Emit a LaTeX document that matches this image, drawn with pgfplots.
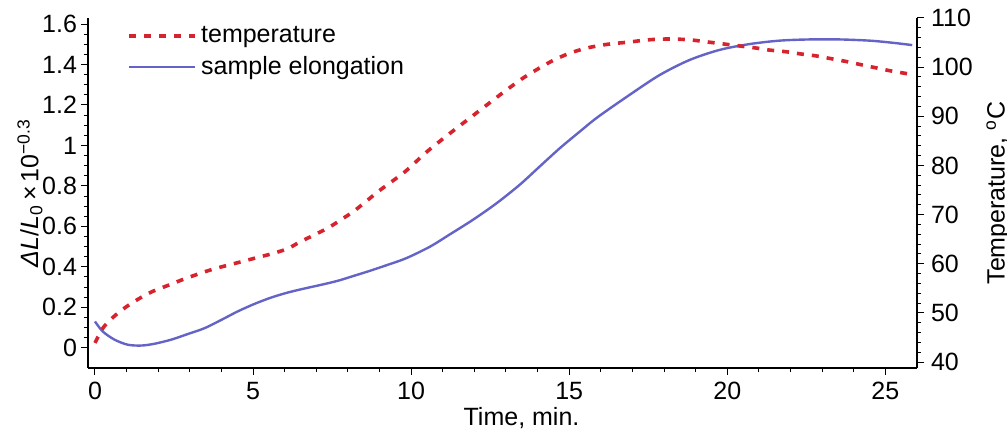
\documentclass[border=0pt]{standalone}
\usepackage{pgfplots}
\pgfplotsset{compat=1.18}
\usepackage{fontspec}
\setmainfont{Liberation Sans}
\definecolor{tred}{RGB}{215,35,45}
\definecolor{eblue}{RGB}{100,100,200}
\begin{document}
\begin{tikzpicture}
\pgfplotsset{common/.style={scale only axis, width=414.5pt, height=175pt,
  xmin=-0.22, xmax=26,
  /pgf/number format/assume math mode=true,
  tick label style={font=\fontsize{12.5}{14}\selectfont},
  label style={font=\fontsize{12.5}{14}\selectfont},
  tick align=outside, major tick length=3.5pt, minor tick length=2pt,
  every tick/.style={black, line width=0.5pt},
  axis line style={black, line width=0.6pt},
  clip=false}}
\begin{axis}[common,
  axis y line*=left, axis x line*=bottom,
  ymin=-0.1, ymax=1.63,
  ytick={0,0.2,0.4,0.6,0.8,1,1.2,1.4,1.6},
  yticklabels={0,0.2,0.4,0.6,0.8,1,1.2,1.4,1.6},
  yticklabel style={xshift=1.5pt},
  minor y tick num=3,
  xtick={0,5,10,15,20,25}, minor x tick num=4,
  xlabel={Time, min.},
  ylabel={{\itshape ΔL}/{\itshape L}\textsubscript{0}\,×\,10\textsuperscript{−0.3}},
  xlabel style={yshift=3pt, xshift=9.5pt},
  ylabel style={yshift=-7pt},
]
\addplot[eblue, line width=1.2pt, smooth] coordinates {
(0,0.13) (0.25,0.08) (0.62,0.04) (1.04,0.015) (1.47,0.011) (1.89,0.02)
(2.41,0.04) (2.94,0.068) (3.47,0.097) (4.0,0.138) (4.52,0.18) (5.05,0.217)
(5.57,0.248) (6.1,0.273) (6.63,0.293) (7.15,0.311) (7.68,0.331) (8.2,0.356)
(8.73,0.382) (9.26,0.41) (9.85,0.443) (10.6,0.50) (11.2,0.558) (11.95,0.632)
(12.7,0.714) (13.43,0.805) (14.06,0.895) (14.7,0.986) (15.33,1.068)
(15.9,1.14) (16.9,1.249) (17.86,1.348) (18.8,1.422) (19.75,1.472)
(20.7,1.501) (21.65,1.518) (22.6,1.524) (23.55,1.524) (24.5,1.518)
(25.2,1.508) (25.85,1.496)
};
\end{axis}
\begin{axis}[common,
  axis y line*=right, axis x line=none,
  ymin=38.8, ymax=110,
  ytick={40,50,60,70,80,90,100,110},
  minor y tick num=4,
  ylabel={Temperature, \textsuperscript{o}C},
  legend style={at={(0.04,1.0)}, anchor=north west, draw=none, fill=none,
    font=\fontsize{12.5}{14}\selectfont, row sep=1.5pt},
  legend cell align=left,
  legend image code/.code={\draw[#1] (0pt,0pt) -- (33pt,0pt);},
]
\addplot[tred, line width=1.8pt, dash pattern=on 3.5pt off 4pt, smooth] coordinates {
(0,43.9) (0.25,46.9) (0.57,49.1) (0.98,51.2) (1.42,53.0) (1.83,54.4)
(2.31,55.6) (2.78,56.8) (3.26,57.9) (3.73,58.9) (4.2,59.7) (4.68,60.5)
(5.15,61.3) (5.63,62.1) (6.1,63.1) (6.5,64.5) (6.98,66.0) (7.4,67.4)
(7.84,69.2) (8.25,71.0) (9.0,74.9) (9.8,78.7) (10.5,82.8) (11.3,86.9)
(12.07,90.7) (12.86,94.6) (13.5,97.6) (14.0,99.6) (14.5,101.4) (15.0,102.8)
(15.5,103.8) (15.96,104.4) (16.4,104.8) (16.9,105.1) (17.4,105.5)
(17.9,105.7) (18.4,105.7) (18.9,105.5) (19.4,105.1) (19.9,104.7)
(20.4,104.3) (20.9,103.9) (21.3,103.5) (21.9,103.1) (22.3,102.7)
(22.8,102.3) (23.3,101.7) (23.8,101.1) (24.3,100.4) (24.75,99.8)
(25.2,99.2) (25.76,98.6)
};
\addlegendentry{temperature}
\addlegendimage{eblue, line width=1.2pt}
\addlegendentry{sample elongation}
\end{axis}
\pgfresetboundingbox
\path (-44pt,-32pt) rectangle (459.5pt,184pt);
\end{tikzpicture}
\end{document}
